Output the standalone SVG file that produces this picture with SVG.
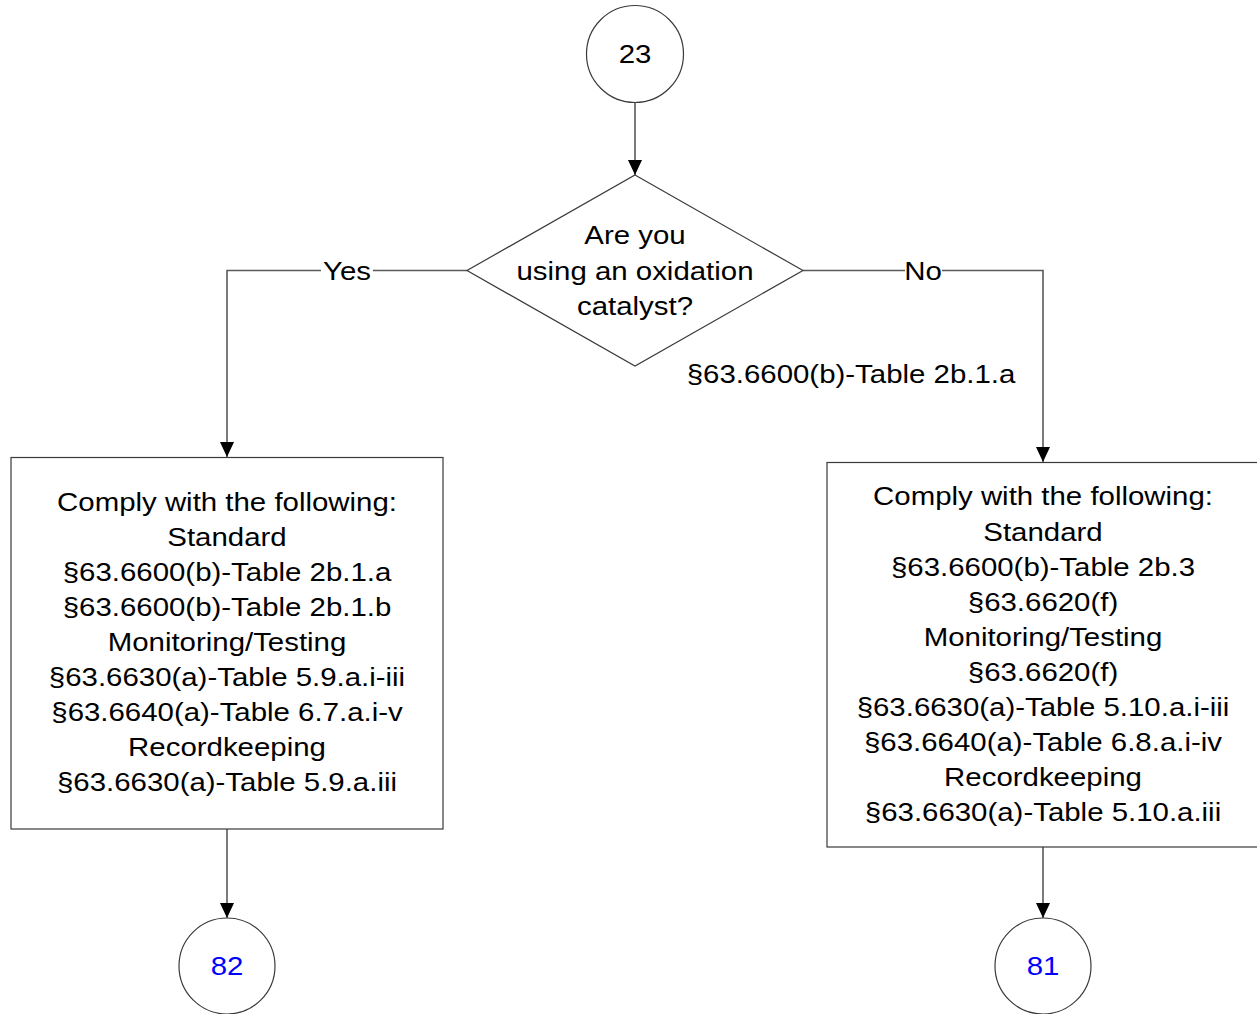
<svg xmlns="http://www.w3.org/2000/svg" width="1257" height="1014" viewBox="0 0 1257 1014">
<style>
.shape{fill:#fff;stroke:#3a3a3a;stroke-width:1.2}
.conn{fill:none;stroke:#5a5a5a;stroke-width:1.6}
.t{font-family:"Liberation Sans",Arial,sans-serif;font-size:26.5px;fill:#000;text-anchor:middle}
.blue{fill:#0000ff}
</style>
<defs>
<marker id="arr" markerUnits="userSpaceOnUse" markerWidth="15" markerHeight="14" refX="15" refY="7" orient="auto">
<path d="M0,0 L15,7 L0,14 z" fill="#000"/>
</marker>
</defs>
<rect width="1257" height="1014" fill="#fff"/>
<g id="connectors">
<path class="conn" d="M635,103 L635,175" marker-end="url(#arr)"/>
<path class="conn" d="M467,270.5 L227,270.5 L227,457" marker-end="url(#arr)"/>
<path class="conn" d="M803,270.5 L1043,270.5 L1043,462" marker-end="url(#arr)"/>
<path class="conn" d="M227,829 L227,918" marker-end="url(#arr)"/>
<path class="conn" d="M1043,847 L1043,918" marker-end="url(#arr)"/>
<rect x="321" y="258" width="52" height="26" fill="#fff"/>
<g transform="translate(347 0) scale(1.11 1)"><text class="t" x="0" y="280">Yes</text></g>
<rect x="905" y="258" width="37" height="26" fill="#fff"/>
<g transform="translate(923 0) scale(1.11 1)"><text class="t" x="0" y="280">No</text></g>
<g transform="translate(851 0) scale(1.11 1)"><text class="t" x="0" y="383.5">§63.6600(b)-Table 2b.1.a</text></g>
</g>
<g id="start23">
<circle class="shape" cx="635" cy="54" r="48.5"/>
<g transform="translate(635 0) scale(1.11 1)"><text class="t" x="0" y="63.5">23</text></g>
</g>
<g id="decision">
<polygon class="shape" points="635,175 803,270.5 635,366 467,270.5"/>
<g transform="translate(635 0) scale(1.11 1)">
<text class="t" x="0" y="244.5">Are you</text>
<text class="t" x="0" y="279.6">using an oxidation</text>
<text class="t" x="0" y="314.7">catalyst?</text>
</g>
</g>
<g id="yesBox">
<rect class="shape" x="11" y="457.5" width="432" height="371.5"/>
<g transform="translate(227 0) scale(1.11 1)">
<text class="t" x="0" y="510.7">Comply with the following:</text>
<text class="t" x="0" y="545.8">Standard</text>
<text class="t" x="0" y="580.9">§63.6600(b)-Table 2b.1.a</text>
<text class="t" x="0" y="616">§63.6600(b)-Table 2b.1.b</text>
<text class="t" x="0" y="651.1">Monitoring/Testing</text>
<text class="t" x="0" y="686.2">§63.6630(a)-Table 5.9.a.i-iii</text>
<text class="t" x="0" y="721.3">§63.6640(a)-Table 6.7.a.i-v</text>
<text class="t" x="0" y="756.4">Recordkeeping</text>
<text class="t" x="0" y="791.5">§63.6630(a)-Table 5.9.a.iii</text>
</g>
</g>
<g id="noBox">
<rect class="shape" x="827" y="462.5" width="432" height="384.5"/>
<g transform="translate(1043 0) scale(1.11 1)">
<text class="t" x="0" y="505.5">Comply with the following:</text>
<text class="t" x="0" y="540.6">Standard</text>
<text class="t" x="0" y="575.7">§63.6600(b)-Table 2b.3</text>
<text class="t" x="0" y="610.8">§63.6620(f)</text>
<text class="t" x="0" y="645.9">Monitoring/Testing</text>
<text class="t" x="0" y="681">§63.6620(f)</text>
<text class="t" x="0" y="716.1">§63.6630(a)-Table 5.10.a.i-iii</text>
<text class="t" x="0" y="751.2">§63.6640(a)-Table 6.8.a.i-iv</text>
<text class="t" x="0" y="786.3">Recordkeeping</text>
<text class="t" x="0" y="821.4">§63.6630(a)-Table 5.10.a.iii</text>
</g>
</g>
<g id="end82">
<circle class="shape" cx="227" cy="966" r="48"/>
<g transform="translate(227 0) scale(1.11 1)"><text class="t blue" x="0" y="975.5">82</text></g>
</g>
<g id="end81">
<circle class="shape" cx="1043" cy="966" r="48"/>
<g transform="translate(1043 0) scale(1.11 1)"><text class="t blue" x="0" y="975.5">81</text></g>
</g>
</svg>
